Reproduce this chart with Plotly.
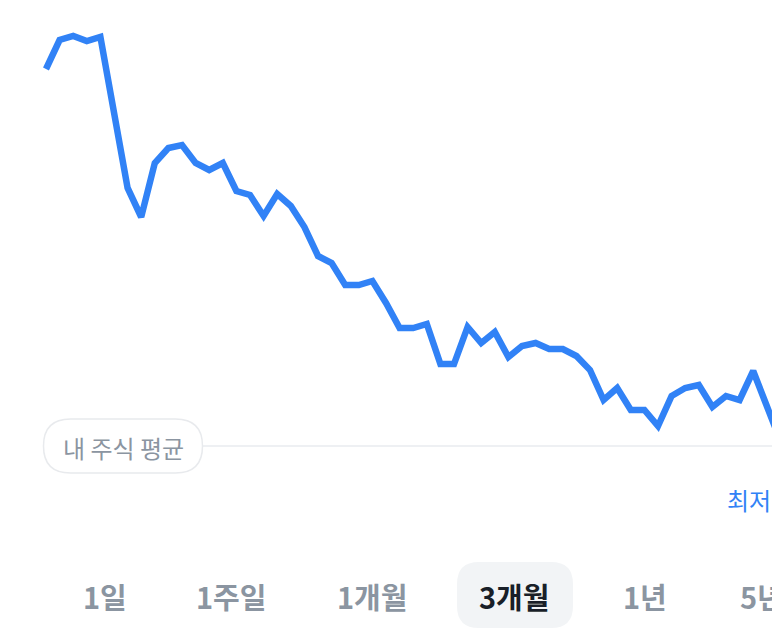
import plotly.graph_objects as go

# ---- data ----
day_index = list(range(56))
prices = [78350, 79800, 80000, 79750, 79950, 76200, 72400, 70950, 73650, 74400,
          74550, 73650, 73300, 73650, 72250, 72050, 71000, 72100, 71500, 70450,
          69000, 68650, 67550, 67550, 67750, 66650, 65400, 65400, 65600, 63600,
          63600, 65450, 64650, 65200, 63950, 64500, 64650, 64350, 64350, 64000,
          63300, 61800, 62400, 61300, 61300, 60500, 62000, 62400, 62550, 61450,
          62000, 61800, 63250, 61500, 59800, 58000]
my_avg_price = 59500
avg_label = "내 주식 평균"
low_label = "최저"
periods = ["1일", "1주일", "1개월", "3개월", "1년", "5년"]
period_x = [105, 231, 372, 514, 645, 762]
selected_period = "3개월"

OFF = 8  # page body margin
W, H = 780 - OFF, 635 - OFF
BLUE = "#3182f6"
GRAY_TXT = "#8b95a1"

def px(x):
    return (x - OFF) / W

def py(y):
    return 1 - (y - OFF) / H

fig = go.Figure()
fig.add_trace(go.Scatter(
    x=day_index, y=prices, mode="lines",
    line=dict(color=BLUE, width=6.5),
    hoverinfo="skip", showlegend=False,
))

shapes = []
shapes.append(dict(type="line", xref="paper", yref="y", x0=px(123), x1=1,
                   y0=my_avg_price, y1=my_avg_price,
                   line=dict(color="#eef0f3", width=2), layer="below"))

def rounded_rect(x0, y0, x1, y1, r):
    def P(x, y):
        return f"{px(x):.5f},{py(y):.5f}"
    return (f"M {P(x0 + r, y0)} L {P(x1 - r, y0)} Q {P(x1, y0)} {P(x1, y0 + r)} "
            f"L {P(x1, y1 - r)} Q {P(x1, y1)} {P(x1 - r, y1)} "
            f"L {P(x0 + r, y1)} Q {P(x0, y1)} {P(x0, y1 - r)} "
            f"L {P(x0, y0 + r)} Q {P(x0, y0)} {P(x0 + r, y0)} Z")

shapes.append(dict(type="path", xref="paper", yref="paper",
                   path=rounded_rect(43.5, 419, 202.5, 473, 27),
                   fillcolor="white", line=dict(color="#e8eaed", width=1.5),
                   layer="below"))
shapes.append(dict(type="path", xref="paper", yref="paper",
                   path=rounded_rect(457, 562, 573, 628, 22),
                   fillcolor="#f2f4f6", line=dict(width=0),
                   layer="below"))

FONT = "Noto Sans CJK KR"
annotations = [
    dict(x=px(123), y=py(447), xref="paper", yref="paper", text=avg_label,
         showarrow=False, font=dict(family=FONT, size=24, color=GRAY_TXT),
         xanchor="center", yanchor="middle"),
    dict(x=px(725), y=py(499), xref="paper", yref="paper", text=low_label,
         showarrow=False, font=dict(family=FONT, size=24, color=BLUE),
         xanchor="left", yanchor="middle"),
]
for lab, x in zip(periods, period_x):
    sel = lab == selected_period
    annotations.append(dict(
        x=px(x), y=py(596), xref="paper", yref="paper", text=f"<b>{lab}</b>",
        showarrow=False, xanchor="center", yanchor="middle",
        font=dict(family=FONT, size=29,
                  color="#191f28" if sel else GRAY_TXT)))

x_step = 13.6
x0_px = 46
fig.update_layout(
    width=W, height=H,
    margin=dict(l=0, r=0, t=0, b=0),
    paper_bgcolor="white", plot_bgcolor="white",
    xaxis=dict(visible=False, range=[(OFF - x0_px) / x_step, (780 - x0_px) / x_step]),
    yaxis=dict(visible=False, range=[80000 - (635 - 36) * 50, 80000 - (OFF - 36) * 50]),
    shapes=shapes, annotations=annotations,
    showlegend=False,
)
fig.write_html("out.html")
